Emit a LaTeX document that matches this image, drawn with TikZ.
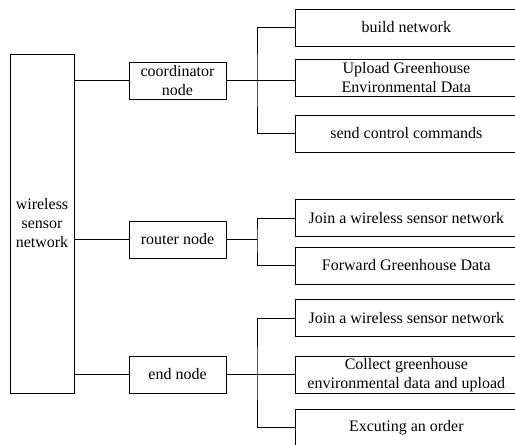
\documentclass[tikz,border=0pt]{standalone}
\usepackage{fontspec}
\setmainfont{Liberation Serif}
\begin{document}
\begin{tikzpicture}[x=1pt,y=-1pt,line width=0.7pt,
    box/.style={draw,align=center,inner sep=1pt,font=\fontsize{16}{19}\selectfont},
    mid/.style={box,minimum width=97pt,minimum height=37pt},
    leaf/.style={box,anchor=west,minimum width=222pt,minimum height=37pt}]
    \useasboundingbox(0,0) rectangle (515,445);
    \clip(0,0) rectangle (515,445);
    % left column
    \node[box,minimum width=64pt,minimum height=339pt](wsn) at(42,223.5){wireless\\sensor\\network};
    \node[mid](coord) at(177.5,80.5){coordinator\\node};
    \node[mid](router) at(177.5,239.5){router node};
    \node[mid](endn) at(177.5,374.5){end node};
    % tasks
    \node[leaf](build) at(295,27.5){build network};
    \node[leaf](upload) at(295,77.5){Upload Greenhouse\\Environmental Data};
    \node[leaf](send) at(295,133.5){send control commands};
    \node[leaf](joinr) at(295,218){Join a wireless sensor network};
    \node[leaf](forward) at(295,265.5){Forward Greenhouse Data};
    \node[leaf](joine) at(295,318){Join a wireless sensor network};
    \node[leaf](collect) at(295,375){Collect greenhouse\\environmental data and upload};
    \node[leaf](order) at(295,427.5){Excuting an order};
    % bus points
    \coordinate(cbus) at(257,80.5);
    \coordinate(rbus) at(257,239.5);
    \coordinate(ebus) at(257,374.5);
    % connectors
    \draw(coord.west -| wsn.east)--(coord.west);
    \draw(router.west -| wsn.east)--(router.west);
    \draw(endn.west -| wsn.east)--(endn.west);
    \draw(coord.east)--(cbus)--(cbus -| upload.west);
    \draw(build.west)-|(cbus)|-(send.west);
    \draw(router.east)--(rbus);
    \draw(joinr.west)-|(rbus)|-(forward.west);
    \draw(endn.east)--(ebus)--(ebus -| collect.west);
    \draw(joine.west)-|(ebus)|-(order.west);
\end{tikzpicture}
\end{document}
